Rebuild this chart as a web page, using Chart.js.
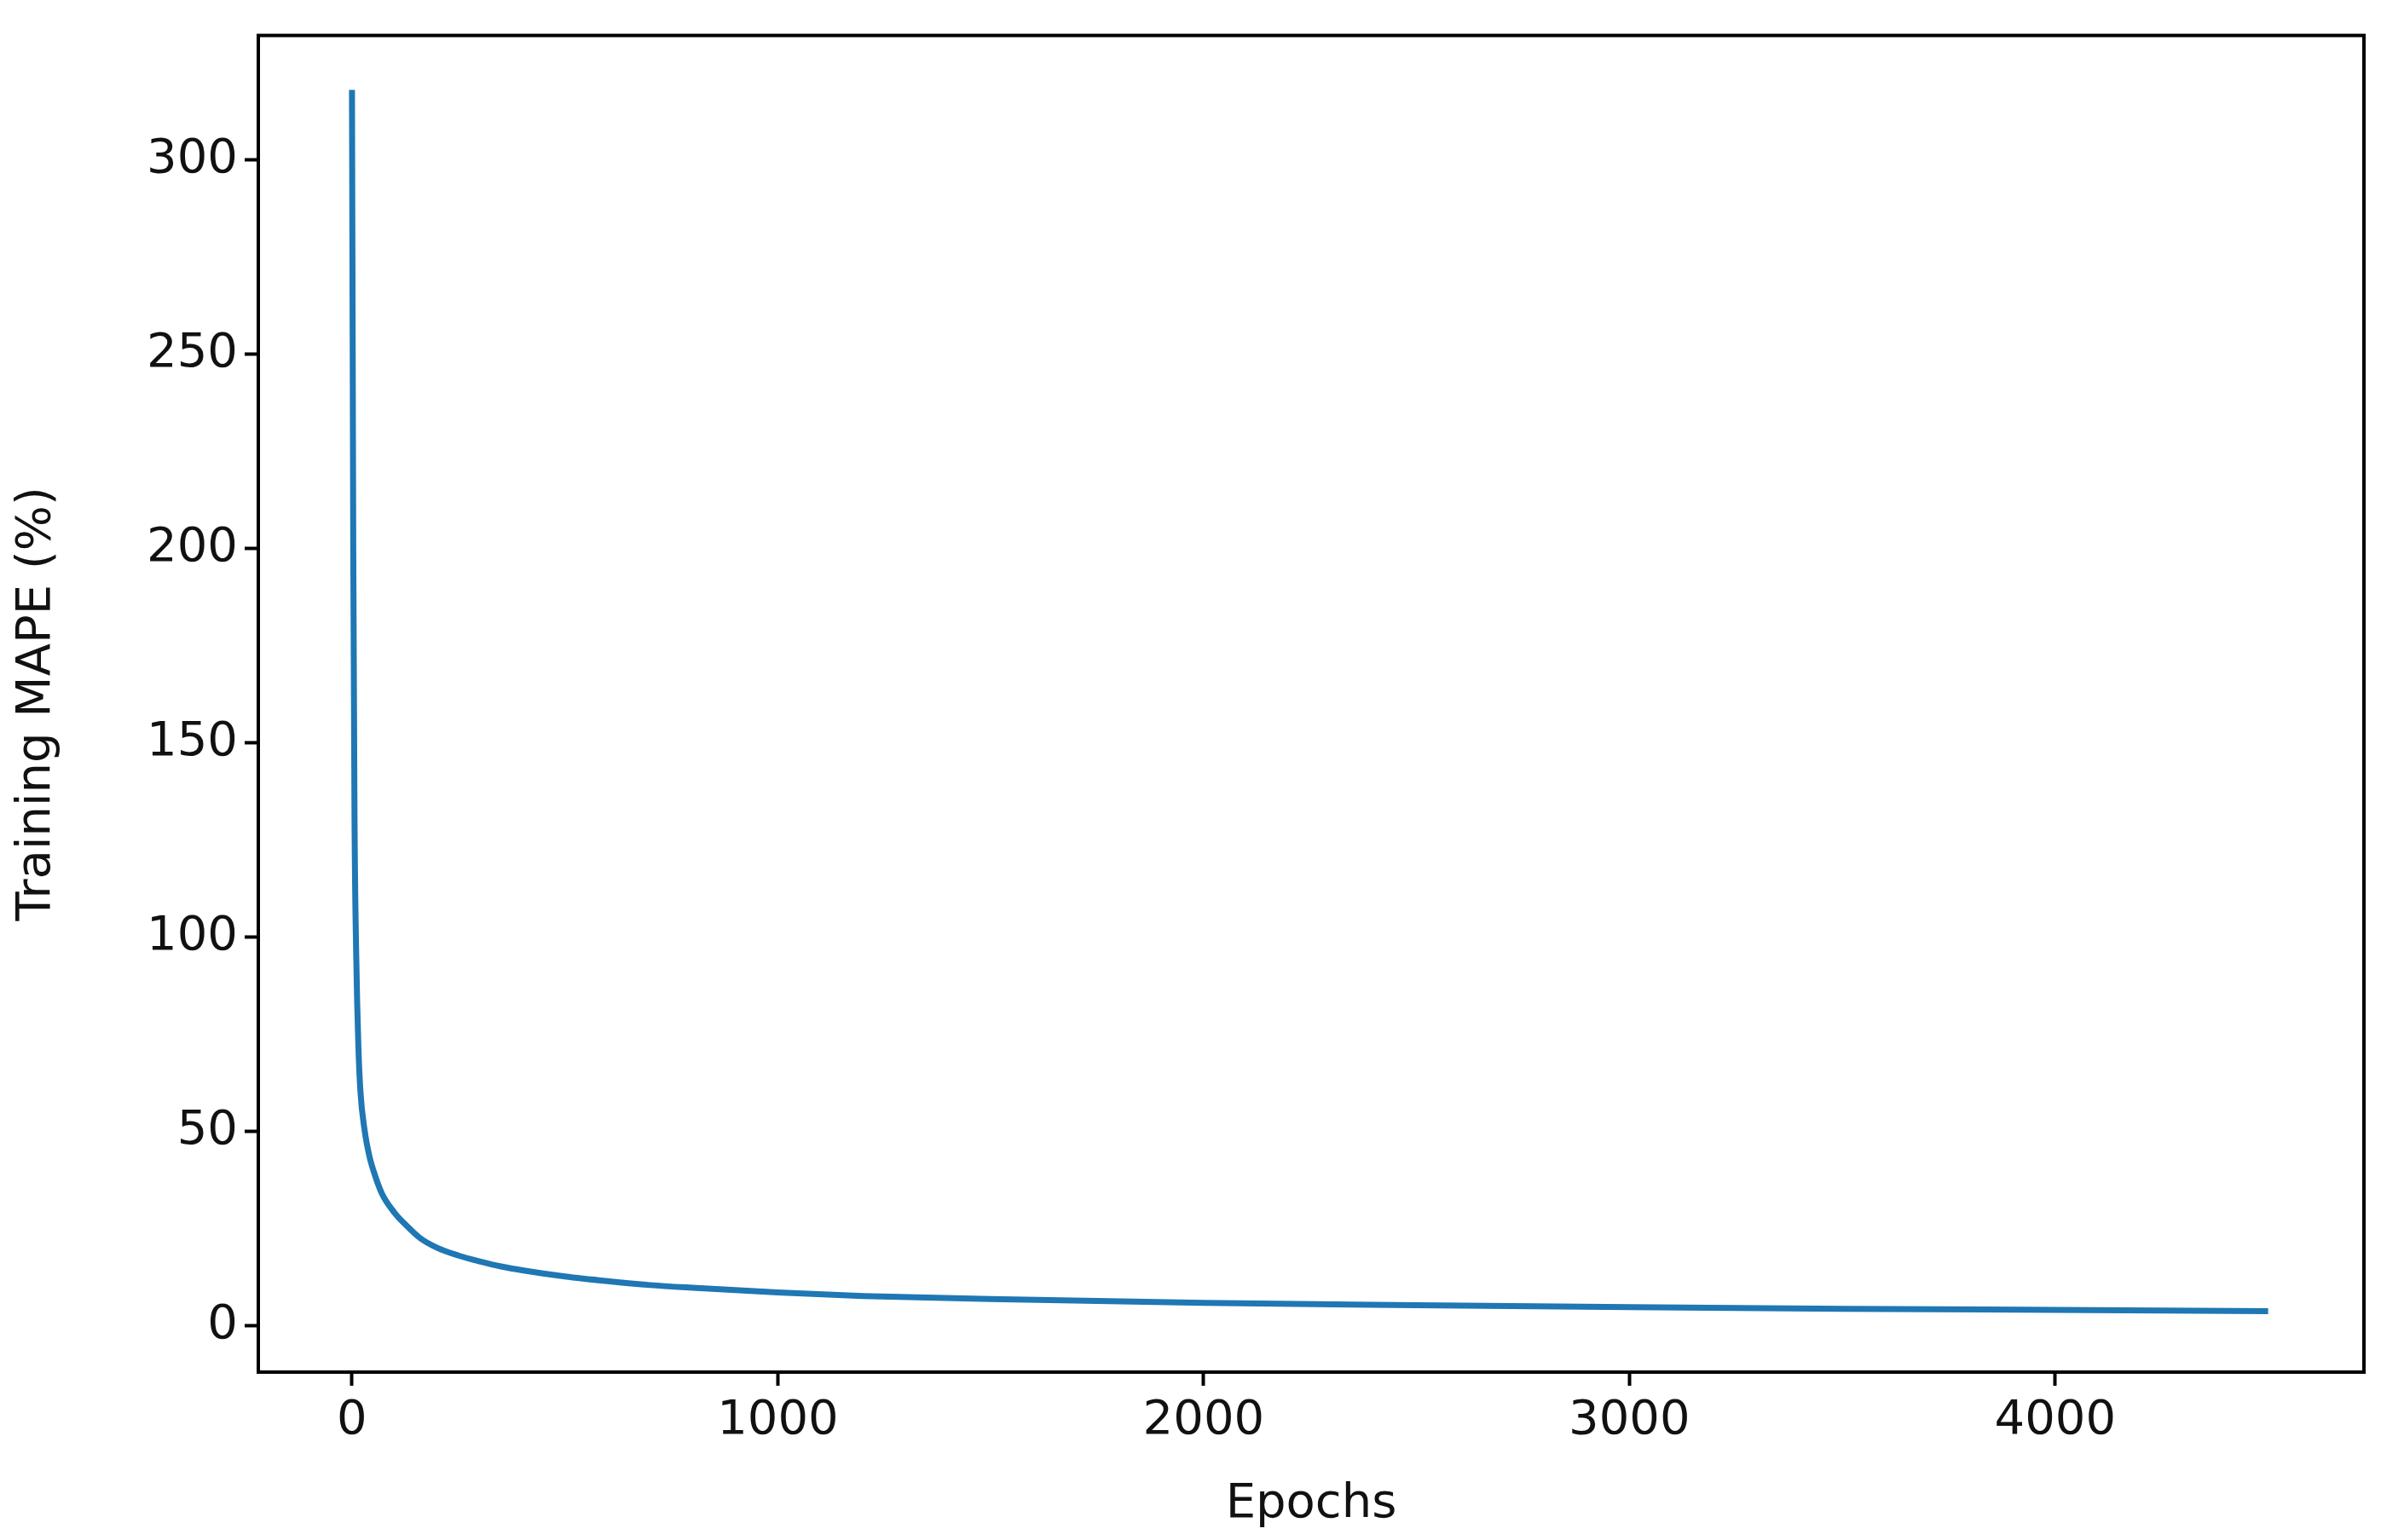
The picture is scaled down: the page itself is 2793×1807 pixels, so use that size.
<!DOCTYPE html>
<html><head><meta charset="utf-8">
<script src="https://cdn.jsdelivr.net/npm/chart.js@4"></script>
<style>html,body{margin:0;padding:0;background:#fff}#w{width:2793px;height:1807px}</style>
</head><body><div id="w"><canvas id="c"></canvas></div>
<script>
const epochs = [0,3,6,10,15,20,30,40,50,70,100,130,160,200,250,300,350,400,500,600,700,800,1000,1200,1500,2000,2500,3000,3500,4000,4500];
const mape = [318,200,130,95,72,60,50,44,40,34,29,25.5,22.5,20,18,16.5,15.2,14.2,12.6,11.4,10.4,9.7,8.5,7.6,6.8,5.8,5.2,4.7,4.3,4.0,3.7];
const xTicks = [0,1000,2000,3000,4000];
const yTicks = [0,50,100,150,200,250,300];
const font = {family:'DejaVu Sans', size:56};
const frame = {id:'frame', afterDraw(ch){const a=ch.chartArea,c=ch.ctx;c.save();c.strokeStyle='#000';c.lineWidth=4;c.strokeRect(a.left,a.top,a.right-a.left,a.bottom-a.top);c.restore();}};
new Chart(document.getElementById('c'),{
  type:'line',
  data:{datasets:[{data:epochs.map((e,i)=>({x:e,y:mape[i]})),borderColor:'#1f77b4',borderWidth:7,pointRadius:0,tension:0.3,cubicInterpolationMode:'monotone'}]},
  options:{responsive:true,maintainAspectRatio:false,animation:false,
    layout:{padding:{top:5,right:20,left:0,bottom:0}},
    plugins:{legend:{display:false},tooltip:{enabled:false}},
    scales:{
      x:{type:'linear',min:-220,max:4725,
        afterBuildTicks(s){s.ticks=xTicks.map(v=>({value:v}));},
        afterFit(s){s.height=197;},
        grid:{drawOnChartArea:false,tickLength:16,tickColor:'#000',tickWidth:4},
        border:{display:false},
        ticks:{color:'#111',font,padding:8,maxRotation:0,callback:v=>String(v)},
        title:{display:true,text:'Epochs',color:'#111',font,padding:{top:0,bottom:8}}},
      y:{min:-12,max:332,
        afterBuildTicks(s){s.ticks=yTicks.map(v=>({value:v}));},
        afterFit(s){s.width=303;},
        grid:{drawOnChartArea:false,tickLength:16,tickColor:'#000',tickWidth:4},
        border:{display:false},
        ticks:{color:'#111',font,padding:8,callback:v=>String(v)},
        title:{display:true,text:'Training MAPE (%)',color:'#111',font,padding:{top:10,bottom:0}}}
    }},
  plugins:[frame]
});
</script></body></html>
